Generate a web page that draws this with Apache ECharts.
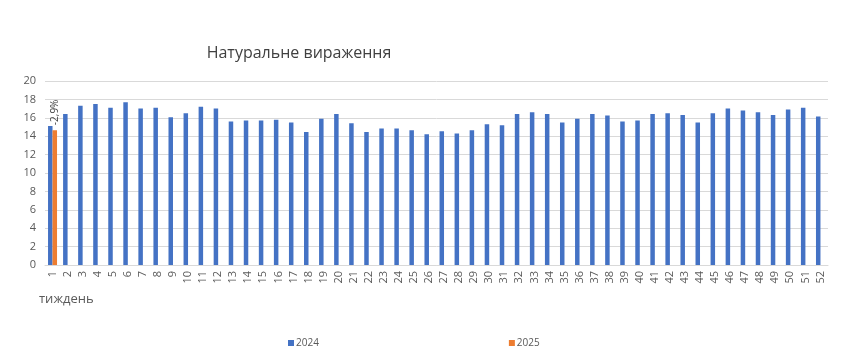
<!DOCTYPE html>
<html><head><meta charset="utf-8">
<script src="https://cdn.jsdelivr.net/npm/echarts@6/dist/echarts.min.js"></script>
<style>html,body{margin:0;padding:0;background:#fff}#c{width:850px;height:363px}</style>
</head><body><div id="c"></div>
<script>
const weeks = Array.from({length:52},(_,i)=>String(i+1));
const values2024 = [15.1,16.4,17.3,17.5,17.1,17.7,17.0,17.1,16.05,16.5,17.2,17.0,15.6,15.7,15.7,15.8,15.5,14.45,15.9,16.4,15.4,14.45,14.85,14.85,14.65,14.2,14.55,14.3,14.65,15.3,15.2,16.4,16.6,16.4,15.5,15.9,16.4,16.25,15.6,15.7,16.4,16.5,16.3,15.5,16.5,17.0,16.8,16.6,16.3,16.9,17.1,16.15];
const values2025 = [14.66];
const labels2025 = ['-2,9%'];
const yTicks = {min:0, max:20, interval:2};

const s2025 = weeks.map((_,i)=> i<values2025.length ? values2025[i] : null);
const chart = echarts.init(document.getElementById('c'));
const font = '"Open Sans", "Liberation Sans", sans-serif';
chart.setOption({
  animation:false,
  title:{text:'Натуральне вираження', left:294, top:40, textAlign:'center',
    textStyle:{fontFamily:font, fontSize:16, fontWeight:'normal', color:'#404040'}},
  legend:{left:283, top:333, itemWidth:6, itemHeight:6, itemGap:190, icon:'rect',
    textStyle:{fontFamily:font, fontSize:10, color:'#595959', padding:[0,0,0,-3]}},
  grid:{left:45, right:22, top:81, bottom:98},
  xAxis:{type:'category', data:weeks,
    axisLine:{lineStyle:{color:'#d9d9d9'}}, axisTick:{show:false},
    axisLabel:{rotate:90, interval:0, fontFamily:font, fontSize:11, color:'#595959', margin:6}},
  yAxis:{type:'value', min:yTicks.min, max:yTicks.max, interval:yTicks.interval,
    axisLine:{show:false}, axisTick:{show:false},
    splitLine:{lineStyle:{color:'#d9d9d9'}},
    axisLabel:{fontFamily:font, fontSize:11, color:'#595959', margin:9}},
  graphic:[{type:'text', left:39, top:293, style:{text:'тиждень', font:'13px '+font, fill:'#595959'}}],
  series:[
    {name:'2024', type:'bar', data:values2024, barWidth:4.5, barGap:'0%', itemStyle:{color:'#4472C4'}},
    {name:'2025', type:'bar', data:s2025, barWidth:4.5, itemStyle:{color:'#ED7D31'},
      label:{show:true, position:'top', rotate:90, align:'left', verticalAlign:'middle', distance:5,
        fontFamily:font, fontSize:10, color:'#404040',
        formatter:p=> labels2025[p.dataIndex] || ''}}
  ]
});
</script></body></html>
